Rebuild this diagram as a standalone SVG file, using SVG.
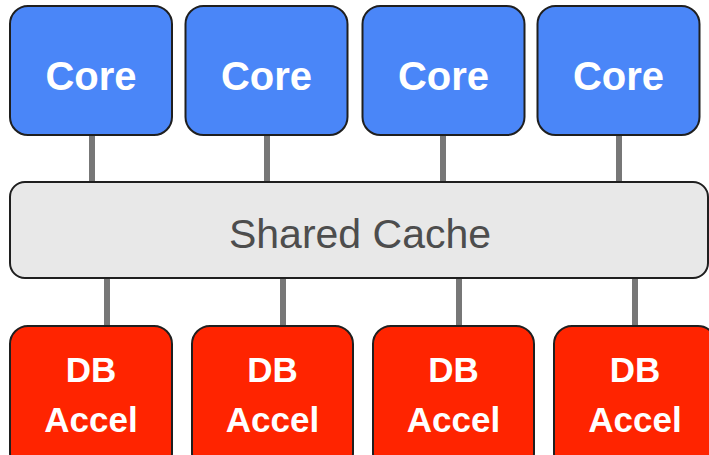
<svg xmlns="http://www.w3.org/2000/svg" width="709" height="455" viewBox="0 0 709 455">
<style>
.core rect{fill:#4a86f8;stroke:#1f1f1f;stroke-width:2}
.acc rect{fill:#ff2400;stroke:#1f1f1f;stroke-width:2}
.lbl{font-family:"Liberation Sans",Arial,sans-serif;font-weight:bold;fill:#fff;text-anchor:middle}
.conn line{stroke:#777;stroke-width:6}
</style>
<rect width="709" height="455" fill="#fff"/>
<g id="connectors" class="conn">
<line x1="92" y1="135" x2="92" y2="182"/>
<line x1="267" y1="135" x2="267" y2="182"/>
<line x1="443" y1="135" x2="443" y2="182"/>
<line x1="619" y1="135" x2="619" y2="182"/>
<line x1="107" y1="278" x2="107" y2="326"/>
<line x1="283" y1="278" x2="283" y2="326"/>
<line x1="459" y1="278" x2="459" y2="326"/>
<line x1="635" y1="278" x2="635" y2="326"/>
</g>
<g id="core1" class="core"><rect x="10" y="6" width="162" height="129" rx="18"/><text class="lbl" x="91" y="90" font-size="40">Core</text></g>
<g id="core2" class="core"><rect x="185.5" y="6" width="162" height="129" rx="18"/><text class="lbl" x="266.5" y="90" font-size="40">Core</text></g>
<g id="core3" class="core"><rect x="362.5" y="6" width="162" height="129" rx="18"/><text class="lbl" x="443.5" y="90" font-size="40">Core</text></g>
<g id="core4" class="core"><rect x="537.5" y="6" width="162" height="129" rx="18"/><text class="lbl" x="618.5" y="90" font-size="40">Core</text></g>
<g id="cache"><rect x="10" y="182" width="698" height="96" rx="15" fill="#e8e8e8" stroke="#1f1f1f" stroke-width="2"/><text x="360" y="248" font-family="'Liberation Sans',Arial,sans-serif" font-size="41" fill="#4d4d4d" text-anchor="middle">Shared Cache</text></g>
<g id="acc1" class="acc"><rect x="10" y="326" width="162" height="145" rx="18"/><text class="lbl" font-size="35"><tspan x="91" y="382">DB</tspan><tspan x="91" y="432">Accel</tspan></text></g>
<g id="acc2" class="acc"><rect x="192" y="326" width="161" height="145" rx="18"/><text class="lbl" font-size="35"><tspan x="272.5" y="382">DB</tspan><tspan x="272.5" y="432">Accel</tspan></text></g>
<g id="acc3" class="acc"><rect x="373" y="326" width="161" height="145" rx="18"/><text class="lbl" font-size="35"><tspan x="453.5" y="382">DB</tspan><tspan x="453.5" y="432">Accel</tspan></text></g>
<g id="acc4" class="acc"><rect x="554" y="326" width="162" height="145" rx="18"/><text class="lbl" font-size="35"><tspan x="635" y="382">DB</tspan><tspan x="635" y="432">Accel</tspan></text></g>
</svg>
